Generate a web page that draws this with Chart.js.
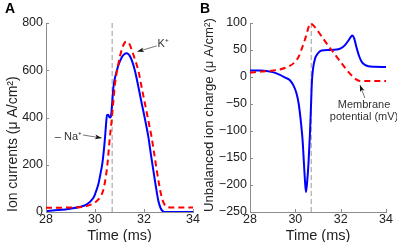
<!DOCTYPE html>
<html>
<head>
<meta charset="utf-8">
<script src="https://cdn.jsdelivr.net/npm/chart.js@4"></script>
<style>
  html, body { margin: 0; padding: 0; background: #fff; }
  #wrap { position: relative; width: 397px; height: 242px; overflow: hidden; }
  .panel { position: absolute; top: 0; height: 242px; }
  #panelA { left: 0; width: 210px; }
  #panelB { left: 198px; width: 199px; }
  .letter { position: absolute; top: 0px; font: bold 14px "Liberation Sans", Arial, sans-serif; color: #000; }
</style>
</head>
<body>
<div id="wrap">
  <div class="panel" id="panelA"><canvas id="chartA"></canvas></div>
  <div class="panel" id="panelB"><canvas id="chartB"></canvas></div>
  <div class="letter" style="left:5px">A</div>
  <div class="letter" style="left:200px">B</div>
</div>
<script>
// ticks
const timeTicks = [28, 30, 32, 34];
const currentTicks = [0, 200, 400, 600, 800];
const chargeTicks = [-250, -200, -150, -100, -50, 0, 50, 100];
const spikeTime = 30.7;

// panel A: ion currents
const naTime = [28, 28.5, 29, 29.4, 29.66, 29.93, 30.0, 30.13, 30.22, 30.3, 30.36, 30.41, 30.45, 30.49, 30.54, 30.6, 30.65, 30.7, 30.75, 30.89, 31.09, 31.29, 31.45, 31.63, 31.77, 31.91, 32.05, 32.18, 32.28, 32.38, 32.48, 32.58, 32.68, 32.79, 32.9, 33.5, 34];
const naCurrent = [4, 8, 14, 22, 32, 59, 75, 115, 160, 206, 260, 317, 370, 410, 412, 400, 405, 460, 527, 598, 654, 672, 655, 598, 530, 458, 388, 317, 245, 177, 110, 50, 16, 2, 0, 0, 0];
const kTime = [28, 29, 29.5, 29.8, 30.0, 30.13, 30.25, 30.34, 30.42, 30.48, 30.53, 30.57, 30.63, 30.68, 30.75, 30.82, 30.95, 31.1, 31.2, 31.29, 31.4, 31.52, 31.65, 31.77, 31.9, 32.04, 32.18, 32.31, 32.42, 32.52, 32.62, 32.72, 32.82, 32.93, 33.1, 34];
const kCurrent = [18, 19, 22, 30, 40, 52, 70, 93, 135, 177, 225, 275, 340, 387, 470, 545, 626, 690, 715, 721, 712, 680, 640, 598, 530, 458, 385, 317, 245, 177, 115, 64, 35, 22, 19, 19];

// panel B: unbalanced charge and membrane potential
const chargeTime = [28, 28.5, 29, 29.32, 29.55, 29.76, 29.91, 30.05, 30.15, 30.25, 30.32, 30.38, 30.43, 30.47, 30.52, 30.58, 30.64, 30.69, 30.73, 30.78, 30.87, 31.0, 31.16, 31.5, 31.83, 32.0, 32.19, 32.35, 32.46, 32.53, 32.6, 32.71, 32.82, 32.93, 33.05, 33.22, 33.5, 34];
const charge = [12, 12, 9, 4, -1, -6, -15, -30, -50, -85, -117, -160, -195, -213, -195, -160, -110, -55, -10, 15, 34, 44, 49, 50, 51, 53, 59, 68, 75, 77, 71, 53, 38, 28, 23, 20, 19, 18.5];
const vmTime = [28, 28.5, 29.03, 29.62, 29.99, 30.15, 30.28, 30.4, 30.5, 30.58, 30.65, 30.73, 30.87, 31.05, 31.23, 31.45, 31.67, 31.9, 32.12, 32.35, 32.56, 32.75, 32.93, 33.5, 34];
const vm = [8, 10, 12, 18, 28, 38, 52, 66, 80, 92, 99, 98, 92, 82, 71, 58, 46, 33, 21, 9, 0, -6, -7.5, -7.5, -7.5];

const FONT = '"Liberation Sans", Arial, sans-serif';
const pts = (xs, ys) => xs.map((x, i) => ({ x: x, y: ys[i] }));

// small inward tick marks, matlab style
const innerTicks = {
  id: "innerTicks",
  afterDraw(chart) {
    const { ctx, chartArea, scales } = chart;
    ctx.save();
    ctx.strokeStyle = "#8c8c8c";
    ctx.lineWidth = 1;
    ctx.beginPath();
    scales.x.ticks.forEach((t) => {
      const px = Math.round(scales.x.getPixelForValue(t.value)) + 0.5;
      ctx.moveTo(px, chartArea.bottom);
      ctx.lineTo(px, chartArea.bottom - 3);
    });
    scales.y.ticks.forEach((t) => {
      const py = Math.round(scales.y.getPixelForValue(t.value)) + 0.5;
      ctx.moveTo(chartArea.left, py);
      ctx.lineTo(chartArea.left + 3, py);
    });
    ctx.stroke();
    ctx.restore();
  },
};

// text labels with arrows
const notes = {
  id: "notes",
  afterDatasetsDraw(chart, args, opts) {
    const { ctx, scales } = chart;
    const sx = (v) => scales.x.getPixelForValue(v);
    const sy = (v) => scales.y.getPixelForValue(v);
    ctx.save();
    (opts.items || []).forEach((n) => {
      const tx = sx(n.tail[0]), ty = sy(n.tail[1]);
      const hx = sx(n.head[0]), hy = sy(n.head[1]);
      ctx.strokeStyle = "#555";
      ctx.lineWidth = 0.8;
      ctx.beginPath();
      ctx.moveTo(tx, ty);
      ctx.lineTo(hx, hy);
      ctx.stroke();
      const a = Math.atan2(hy - ty, hx - tx);
      ctx.fillStyle = "#111";
      ctx.beginPath();
      ctx.moveTo(hx, hy);
      ctx.lineTo(hx - 7 * Math.cos(a - 0.35), hy - 7 * Math.sin(a - 0.35));
      ctx.lineTo(hx - 5 * Math.cos(a), hy - 5 * Math.sin(a));
      ctx.lineTo(hx - 7 * Math.cos(a + 0.35), hy - 7 * Math.sin(a + 0.35));
      ctx.closePath();
      ctx.fill();
      ctx.fillStyle = "#333";
      ctx.font = "11px " + FONT;
      ctx.textAlign = n.align;
      ctx.textBaseline = "middle";
      n.text.forEach((line, i) => {
        ctx.fillText(line, sx(n.at[0]), sy(n.at[1]) + i * 12);
      });
    });
    ctx.restore();
  },
};

function axisX(title) {
  return {
    type: "linear",
    min: timeTicks[0],
    max: timeTicks[timeTicks.length - 1],
    afterBuildTicks: (s) => { s.ticks = timeTicks.map((v) => ({ value: v })); },
    afterFit: (s) => { s.height = 30; s.paddingLeft = 0; s.paddingRight = 0; },
    grid: { display: false, drawTicks: false },
    border: { display: true, color: "#8c8c8c", width: 1 },
    ticks: { font: { family: FONT, size: 12.5 }, color: "#222", padding: 0, maxRotation: 0, autoSkip: false },
    title: { display: true, text: title, color: "#222", font: { family: FONT, size: 14.5, lineHeight: 1 }, padding: { top: 0, bottom: -1 } },
  };
}

function axisY(tickList, title, width, titlePad, titleSize) {
  return {
    min: tickList[0],
    max: tickList[tickList.length - 1],
    afterBuildTicks: (s) => { s.ticks = tickList.map((v) => ({ value: v })); },
    afterFit: (s) => { s.width = width; s.paddingTop = 0; s.paddingBottom = 0; },
    grid: { display: false, drawTicks: false },
    border: { display: true, color: "#8c8c8c", width: 1 },
    ticks: {
      font: { family: FONT, size: 12.5 },
      color: "#222",
      padding: 3,
      autoSkip: false,
      callback: (v) => String(v).replace("-", "\u2212"),
    },
    title: { display: true, text: title, align: "start", color: "#222", font: { family: FONT, size: titleSize, lineHeight: 1 }, padding: { top: titlePad, bottom: 0 } },
  };
}

function lineSet(data, color, dash) {
  return {
    data: data,
    borderColor: color,
    borderWidth: 2,
    borderDash: dash,
    pointRadius: 0,
    fill: false,
    cubicInterpolationMode: "monotone",
  };
}

function markerSet(yMin, yMax) {
  return {
    data: [{ x: spikeTime, y: yMin }, { x: spikeTime, y: yMax }],
    borderColor: "#999",
    borderWidth: 1,
    borderDash: [5, 3],
    pointRadius: 0,
    fill: false,
  };
}

new Chart(document.getElementById("chartA"), {
  type: "line",
  data: {
    datasets: [
      lineSet(pts(kTime, kCurrent), "#ff0000", [6, 4]),
      lineSet(pts(naTime, naCurrent), "#0000ff", []),
      markerSet(currentTicks[0], currentTicks[currentTicks.length - 1]),
    ],
  },
  options: {
    responsive: true,
    maintainAspectRatio: false,
    animation: false,
    devicePixelRatio: 1,
    layout: { padding: { left: 0, top: 23, right: 17, bottom: 0 } },
    plugins: {
      legend: { display: false },
      tooltip: { enabled: false },
      notes: {
        items: [
          { text: ["\u2013 Na\u207A"], align: "right", at: [29.47, 316], tail: [29.51, 326], head: [30.27, 313] },
          { text: ["K\u207A"], align: "left", at: [32.55, 711], tail: [32.52, 703], head: [31.73, 679] },
        ],
      },
    },
    scales: {
      x: axisX("Time (ms)"),
      y: axisY(currentTicks, "Ion currents (\u03BC A/cm\u00B2)", 46, 6, 14),
    },
  },
  plugins: [innerTicks, notes],
});

new Chart(document.getElementById("chartB"), {
  type: "line",
  data: {
    datasets: [
      lineSet(pts(vmTime, vm), "#ff0000", [6, 4]),
      lineSet(pts(chargeTime, charge), "#0000ff", []),
      markerSet(chargeTicks[0], chargeTicks[chargeTicks.length - 1]),
    ],
  },
  options: {
    responsive: true,
    maintainAspectRatio: false,
    animation: false,
    devicePixelRatio: 1,
    layout: { padding: { left: 0, top: 23, right: 11, bottom: 0 } },
    plugins: {
      legend: { display: false },
      tooltip: { enabled: false },
      notes: {
        items: [
          { text: ["Membrane", "potential (mV)"], align: "center", at: [33.03, -52], tail: [33.07, -39], head: [32.85, -15] },
        ],
      },
    },
    scales: {
      x: axisX("Time (ms)"),
      y: axisY(chargeTicks, "Unbalanced ion charge (\u03BC A/cm\u00B2)", 52, 5, 13.2),
    },
  },
  plugins: [innerTicks, notes],
});
</script>
</body>
</html>
